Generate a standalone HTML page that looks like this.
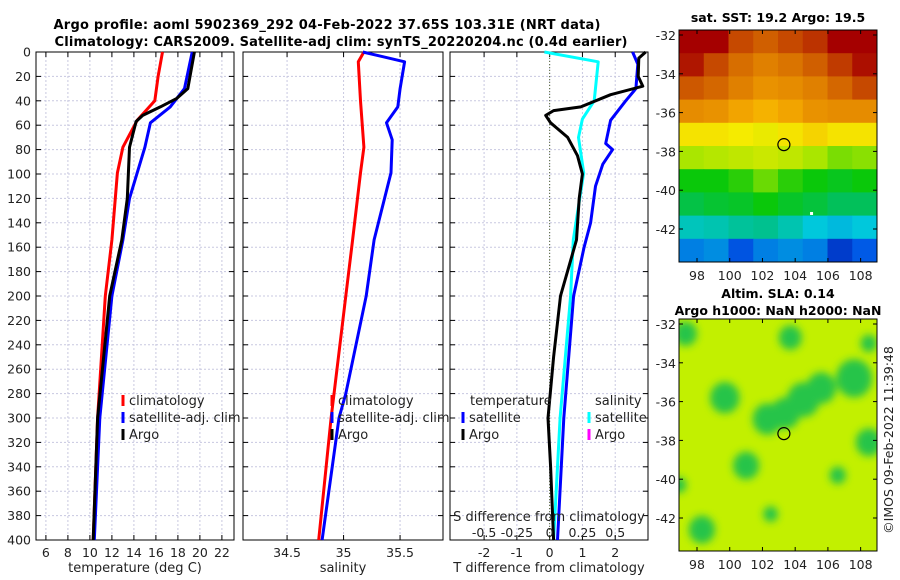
<!DOCTYPE html>
<html><head><meta charset="utf-8"><style>
body{margin:0;background:#fff;}
svg{display:block;font-family:"DejaVu Sans","Liberation Sans",sans-serif;}
</style></head><body>
<svg id="s" width="900" height="580" viewBox="0 0 900 580">
<defs><filter id="bl" x="-50%" y="-50%" width="200%" height="200%"><feGaussianBlur stdDeviation="4"/></filter>
<clipPath id="c2"><rect x="679" y="319" width="198" height="232"/></clipPath></defs>
<text x="327" y="29" text-anchor="middle" font-size="13" font-weight="bold" textLength="547">Argo profile: aoml 5902369_292 04-Feb-2022 37.65S 103.31E (NRT data)</text>
<text x="341" y="46" text-anchor="middle" font-size="13" font-weight="bold" textLength="573">Climatology: CARS2009. Satellite-adj clim: synTS_20220204.nc (0.4d earlier)</text>
</svg>
<script>
const S=document.getElementById('s');const NS='http://www.w3.org/2000/svg';
function el(t,a,p){const e=document.createElementNS(NS,t);for(const k in a)e.setAttribute(k,a[k]);(p||S).appendChild(e);return e;}
// ---- data ----
const depthClim=[0,20,40,56,78,99,154,200,300,400];
const tempClim=[16.6,16.2,15.9,14.3,13.0,12.5,12.0,11.4,10.7,10.3];
const depthArgo=[0,30,38,45,52,57,78,120,154,200,300,400];
const tempArgo=[19.5,18.9,17.9,16.4,14.8,14.2,13.6,13.4,12.9,11.8,10.7,10.3];
const depthSat=[0,30,45,58,78,99,120,154,200,300,400];
const tempSat=[19.3,18.6,17.3,15.5,15.0,14.3,13.6,13.0,12.0,10.9,10.4];
const depthSalC=[0,8,40,78,99,154,200,300,400];
const salClim=[35.18,35.13,35.15,35.18,35.15,35.08,35.02,34.89,34.78];
const depthSalS=[0,8,30,45,58,72,99,154,200,280,300,400];
const salSat=[35.17,35.54,35.50,35.48,35.38,35.43,35.42,35.27,35.2,35.02,34.96,34.81];
const depthTd=[0,10,30,40,56,75,80,92,110,140,160,200,300,400];
const tDiffSat=[2.53,2.69,2.63,2.32,1.86,1.71,1.92,1.62,1.40,1.25,1.05,0.73,0.43,0.24];
const depthSd=[0,8,40,55,70,99,154,200,300,400];
const sDiffSat=[-0.04,0.37,0.34,0.25,0.22,0.26,0.18,0.16,0.08,0.03];
const depthTa=[0,5,20,28,35,45,48,52,58,70,85,100,120,154,200,250,300,340,400];
const tDiffArgo=[2.93,2.72,2.7,2.84,1.86,0.95,0.12,-0.12,0.03,0.55,0.85,1.0,0.9,0.82,0.33,0.12,-0.05,0.03,0.12];
const depthTicks=[0,20,40,60,80,100,120,140,160,180,200,220,240,260,280,300,320,340,360,380,400];
const tempTicks=[6,8,10,12,14,16,18,20,22];
const salTicks=[34.5,35,35.5];
const tdTicks=[-2,-1,0,1,2];
const sdTicks=[-0.5,-0.25,0,0.25,0.5];
const sdTickLabels=['-0.5','-0.25','0','0.25','0.5'];
const latTicks=[-32,-34,-36,-38,-40,-42];
const lonTicks=[98,100,102,104,106,108];
const sstGrid=[
[1,1,0.9,0.87,0.9,0.93,1,1],
[0.97,0.9,0.85,0.82,0.84,0.87,0.92,0.98],
[0.88,0.86,0.82,0.79,0.8,0.82,0.86,0.9],
[0.8,0.79,0.76,0.74,0.76,0.79,0.8,0.8],
[0.68,0.68,0.67,0.66,0.68,0.7,0.68,0.68],
[0.6,0.61,0.62,0.63,0.62,0.6,0.57,0.58],
[0.5,0.5,0.52,0.56,0.52,0.5,0.48,0.5],
[0.44,0.46,0.47,0.5,0.47,0.45,0.42,0.42],
[0.33,0.34,0.36,0.37,0.34,0.3,0.28,0.3],
[0.2,0.22,0.14,0.2,0.22,0.2,0.1,0.15]];
const blobLon=[97.3,99.7,102.3,103.4,104.5,105.6,107.6,103.7,108.5,108.5,101,98.3,102.5,96.9,106.6];
const blobLat=[-32.5,-35.8,-36.9,-36.6,-35.9,-35.3,-34.8,-32.7,-33.0,-38.1,-39.3,-42.6,-41.8,-40.3,-39.8];
const blobR=[0.7,0.9,0.9,0.9,1.0,0.9,1.1,0.7,0.5,0.8,0.8,0.8,0.45,0.45,0.5];
const profLon=103.31, profLat=-37.65;
// ---- axes ----
const Y0=52,Y1=540;
const yD=d=>Y0+(d-0)*(Y1-Y0)/400;
const P1={x0:36,x1:234,d0:5.1,d1:23.1},P2={x0:243,x1:443,d0:34.11,d1:35.88},P3={x0:450,x1:648,d0:-3.04,d1:3.0};
const sx=(P,v)=>P.x0+(v-P.d0)*(P.x1-P.x0)/(P.d1-P.d0);
const sdx=v=>sx(P3,v*4);
function panel(P,ticks,name,lab){
  const g=el('g',{});
  ticks.forEach(t=>el('line',{x1:sx(P,t),x2:sx(P,t),y1:Y0,y2:Y1,stroke:'#c8c8e0','stroke-width':1,'stroke-dasharray':'2,2'},g));
  depthTicks.forEach(d=>el('line',{x1:P.x0,x2:P.x1,y1:yD(d),y2:yD(d),stroke:'#c8c8e0','stroke-width':1,'stroke-dasharray':'2,2'},g));
  el('rect',{x:P.x0,y:Y0,width:P.x1-P.x0,height:Y1-Y0,fill:'none',stroke:'#000'},g);
  depthTicks.forEach(d=>{el('line',{x1:P.x0,x2:P.x0+5,y1:yD(d),y2:yD(d),stroke:'#000'},g);el('line',{x1:P.x1-5,x2:P.x1,y1:yD(d),y2:yD(d),stroke:'#000'},g);});
  ticks.forEach(t=>{el('line',{x1:sx(P,t),x2:sx(P,t),y1:Y1,y2:Y1-5,stroke:'#000'},g);el('line',{x1:sx(P,t),x2:sx(P,t),y1:Y0,y2:Y0+5,stroke:'#000'},g);
    const tx=el('text',{x:sx(P,t),y:Y1+17,'font-size':12.5,'text-anchor':'middle',fill:'#222'},g);tx.textContent=String(t);});
  const l=el('text',{x:(P.x0+P.x1)/2,y:572,'font-size':13,'text-anchor':'middle',fill:'#222'},g);l.textContent=lab;
  return g;
}
function line(xs,ds,P,col,name,fx){
  const pts=xs.map((v,i)=>(fx?fx(v):sx(P,v)).toFixed(1)+','+yD(ds[i]).toFixed(1)).join(' ');
  const e=el('polyline',{points:pts,fill:'none',stroke:col,'stroke-width':3,'stroke-linejoin':'round'});
  
  
}
panel(P1,tempTicks,'temperature-panel','temperature (deg C)');
depthTicks.forEach(d=>{const t=el('text',{x:31,y:yD(d)+4.5,'font-size':12.5,'text-anchor':'end',fill:'#222'});t.textContent=d;});
line(tempClim,depthClim,P1,'#ff0000','temp-climatology-line');
line(tempSat,depthSat,P1,'#0000ff','temp-satellite-line');
line(tempArgo,depthArgo,P1,'#000','temp-argo-line');
panel(P2,salTicks,'salinity-panel','salinity');
line(salClim,depthSalC,P2,'#ff0000','sal-climatology-line');
line(salSat,depthSalS,P2,'#0000ff','sal-satellite-line');
panel(P3,tdTicks,'difference-panel','T difference from climatology');
el('line',{x1:sx(P3,0),x2:sx(P3,0),y1:Y0,y2:Y1,stroke:'#556633','stroke-dasharray':'1,2'});
line(sDiffSat,depthSd,P3,'#00ffff','sdiff-satellite-line',sdx);
line(tDiffSat,depthTd,P3,'#0000ff','tdiff-satellite-line');
line(tDiffArgo,depthTa,P3,'#000','tdiff-argo-line');
function txt(x,y,s,name,o){const t=el('text',Object.assign({x:x,y:y,'font-size':13,fill:'#222'},o||{}));t.textContent=s;return t;}
txt(549,521,'S difference from climatology','sdiff-axis-title',{'text-anchor':'middle'});
sdTicks.forEach((v,i)=>txt(sdx(v),537,sdTickLabels[i],'sdiff-tick',{'text-anchor':'middle','font-size':12.5}));
function leg(x,y,col,s,name){el('line',{x1:x,x2:x,y1:y-10,y2:y+1,stroke:col,'stroke-width':3});txt(x+6,y,s,name);}
leg(123,405,'#ff0000','climatology','legend-climatology');
leg(123,422,'#0000ff','satellite-adj. clim','legend-satellite');
leg(123,439,'#000','Argo','legend-argo');
leg(332,405,'#ff0000','climatology','legend2-climatology');
leg(332,422,'#0000ff','satellite-adj. clim','legend2-satellite');
leg(332,439,'#000','Argo','legend2-argo');
txt(470,405,'temperature','legend-temperature-header');
leg(463,422,'#0000ff','satellite','legend-t-satellite');
leg(463,439,'#000','Argo','legend-t-argo');
txt(595,405,'salinity','legend-salinity-header');
leg(589,422,'#00ffff','satellite','legend-s-satellite');
leg(589,439,'#ff00ff','Argo','legend-s-argo');
// ---- maps ----
const M={x0:679,x1:877,lon0:96.9,lon1:109.0};
const mx=l=>M.x0+(l-M.lon0)*(M.x1-M.x0)/(M.lon1-M.lon0);
const my=(top,lat)=>top+5+(-32-lat)*19.4;
const cmS=[0,0.15,0.3,0.4,0.5,0.6,0.67,0.75,0.85,1];
const cmC=[[0,0,150],[0,90,230],[0,200,220],[0,190,110],[10,200,10],[170,230,0],[245,235,0],[245,170,0],[215,110,0],[165,0,0]];
function cmap(v){for(let i=1;i<cmS.length;i++){if(v<=cmS[i]){const f=(v-cmS[i-1])/(cmS[i]-cmS[i-1]);const a=cmC[i-1],b=cmC[i];return `rgb(${a.map((c,k)=>Math.round(c+(b[k]-c)*f)).join(',')})`;}}return 'rgb(165,0,0)';}
function mapAxes(top,name){
  const g=el('g',{});
  el('rect',{x:M.x0,y:top,width:M.x1-M.x0,height:232,fill:'none',stroke:'#000'},g);
  latTicks.forEach(l=>{el('line',{x1:M.x1,x2:M.x1-4,y1:my(top,l),y2:my(top,l),stroke:'#000'},g);el('line',{x1:M.x0,x2:M.x0+4,y1:my(top,l),y2:my(top,l),stroke:'#000'},g);
    const t=el('text',{x:M.x0-3,y:my(top,l)+5,'font-size':12.5,'text-anchor':'end',fill:'#222'},g);t.textContent=l;});
  lonTicks.forEach(l=>{el('line',{x1:mx(l),x2:mx(l),y1:top+232,y2:top+228,stroke:'#000'},g);el('line',{x1:mx(l),x2:mx(l),y1:top,y2:top+4,stroke:'#000'},g);
    const t=el('text',{x:mx(l),y:top+250,'font-size':12.5,'text-anchor':'middle',fill:'#222'},g);t.textContent=l;});
  const c=el('ellipse',{cx:mx(profLon),cy:my(top,profLat),rx:6,ry:6,fill:'none',stroke:'#000','stroke-width':1.2});
  
}
const rh=232/sstGrid.length,cw=198/sstGrid[0].length;
sstGrid.forEach((row,i)=>row.forEach((v,j)=>{const r=el('rect',{x:M.x0+j*cw,y:30+i*rh,width:cw+0.5,height:rh+0.5,fill:cmap(v)});
  }));
el('rect',{x:mx(105)-1.5,y:my(30,-41.2)-1.5,width:3,height:3,fill:'#fff'});
mapAxes(30,'sst-map');
const g2=el('g',{'clip-path':'url(#c2)'});
el('rect',{x:679,y:319,width:198,height:232,fill:'#c2f000'},g2);
const gb=el('g',{filter:'url(#bl)'},g2);
blobLon.forEach((l,i)=>{const b=el('ellipse',{cx:mx(l),cy:my(319,blobLat[i]),rx:blobR[i]*16.4,ry:blobR[i]*19.4*0.9,fill:'#28c448'},gb);
  });
mapAxes(319,'sla-map');
txt(778,22,'sat. SST: 19.2 Argo: 19.5','sst-map-title',{'text-anchor':'middle','font-weight':'bold','font-size':12.5,fill:'#000'});
txt(778,298,'Altim. SLA: 0.14','sla-map-title',{'text-anchor':'middle','font-weight':'bold','font-size':12.5,fill:'#000'});
txt(778,315,'Argo h1000: NaN h2000: NaN','sla-map-subtitle',{'text-anchor':'middle','font-weight':'bold','font-size':12.5,fill:'#000'});
txt(893,440,'©IMOS 09-Feb-2022 11:39:48','imos-stamp',{'text-anchor':'middle','font-size':12.5,transform:'rotate(-90 893 440)'});
</script>
</body></html>
